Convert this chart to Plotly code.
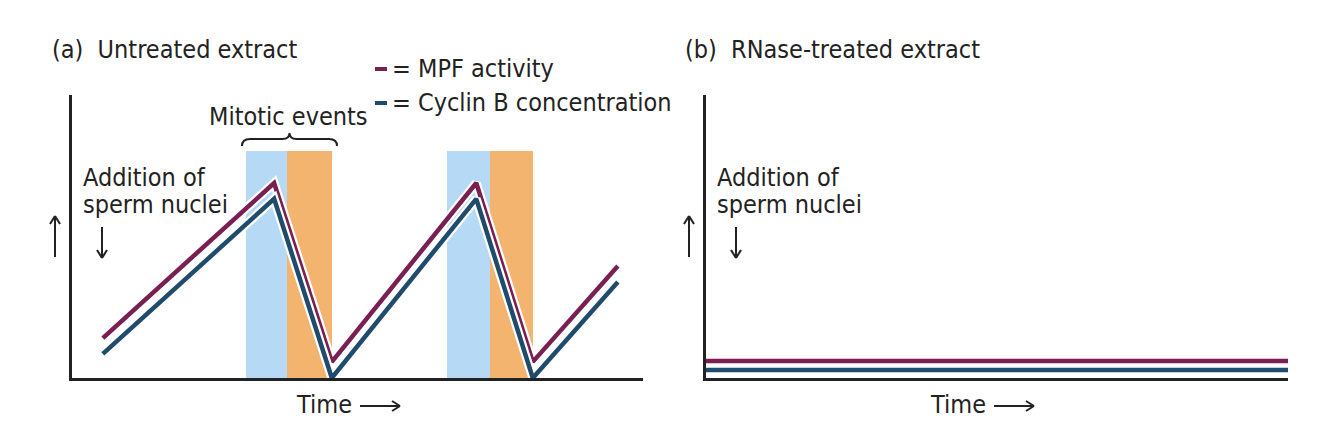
import plotly.graph_objects as go

W, H = 1326, 438

# ---------------- data (time units 0-100, level units 0-100) ----------------
time_a = [5.4, 35.4, 45.5, 70.8, 80.7, 95.6]
mpf_a = [14.1, 68.9, 5.7, 68.9, 5.7, 39.6]
cyclin_a = [8.5, 63.3, 0.0, 63.3, 0.0, 33.9]

early_mitosis_start = [30.4, 65.7]
early_mitosis_end = [37.7, 73.2]
late_mitosis_start = [37.7, 73.2]
late_mitosis_end = [45.5, 80.7]
mitosis_top = 80.2

time_b = [0, 100]
mpf_b = [6.0, 6.0]
cyclin_b = [2.8, 2.8]

PURPLE = "#7a1f52"
BLUE = "#1f4c6c"
LIGHTBLUE = "#b6d9f5"
ORANGE = "#f3b46f"
INK = "#222222"
FONT = "Liberation Sans Narrow, DejaVu Sans Condensed, Arial Narrow, sans-serif"
FS = 25


def px(x):
    return x / W


def py(y):
    return 1 - y / H


fig = go.Figure()

# mitotic event bars
for starts, ends, col in [(early_mitosis_start, early_mitosis_end, LIGHTBLUE),
                          (late_mitosis_start, late_mitosis_end, ORANGE)]:
    fig.add_trace(go.Bar(
        x=[(s + e) / 2 for s, e in zip(starts, ends)],
        width=[e - s for s, e in zip(starts, ends)],
        y=[mitosis_top] * len(starts),
        marker=dict(color=col, line=dict(width=0)),
        xaxis="x", yaxis="y", showlegend=False, hoverinfo="skip"))

# lines with white casing
for xs, ys, col, ax, ay in [(time_a, mpf_a, PURPLE, "x", "y"),
                            (time_a, cyclin_a, BLUE, "x", "y"),
                            (time_b, mpf_b, PURPLE, "x2", "y2"),
                            (time_b, cyclin_b, BLUE, "x2", "y2")]:
    fig.add_trace(go.Scatter(x=xs, y=ys, mode="lines",
                             line=dict(color="white", width=9),
                             xaxis=ax, yaxis=ay, showlegend=False, hoverinfo="skip"))
    fig.add_trace(go.Scatter(x=xs, y=ys, mode="lines",
                             line=dict(color=col, width=4.5),
                             xaxis=ax, yaxis=ay, showlegend=False, hoverinfo="skip"))

ydom = [py(378), py(95)]
axis_common = dict(showgrid=False, zeroline=False, showticklabels=False, ticks="",
                   showline=True, linecolor=INK, linewidth=3, range=[0, 100],
                   layer="above traces", fixedrange=True)
fig.update_layout(
    width=W, height=H, margin=dict(l=0, r=0, t=0, b=0),
    paper_bgcolor="white", plot_bgcolor="white", barmode="overlay", bargap=0,
    xaxis=dict(domain=[px(72), px(643)], anchor="y", **axis_common),
    yaxis=dict(domain=ydom, anchor="x", **axis_common),
    xaxis2=dict(domain=[px(706), px(1288)], anchor="y2", **axis_common),
    yaxis2=dict(domain=ydom, anchor="x2", **axis_common),
)

annotations = []
shapes = []


def text(x, y, s, size=FS, anchor="left"):
    annotations.append(dict(x=px(x), y=py(y), xref="paper", yref="paper", text=s,
                            showarrow=False, xanchor=anchor, yanchor="middle",
                            font=dict(family=FONT, size=size, color=INK)))


def line(x0, y0, x1, y1, color=INK, width=2):
    shapes.append(dict(type="line", xref="paper", yref="paper",
                       x0=px(x0), y0=py(y0), x1=px(x1), y1=py(y1),
                       line=dict(color=color, width=width)))


def arrow(x0, y0, x1, y1, head=8):
    line(x0, y0, x1, y1)
    if x0 == x1:
        d = 1 if y1 > y0 else -1
        line(x1 - 5, y1 - d * head, x1, y1)
        line(x1 + 5, y1 - d * head, x1, y1)
    else:
        d = 1 if x1 > x0 else -1
        line(x1 - d * head, y1 - 5, x1, y1)
        line(x1 - d * head, y1 + 5, x1, y1)


# titles
text(50, 50, "(a)  Untreated extract")
text(683, 50, "(b)  RNase-treated extract")

# legend
line(375, 69, 387, 69, PURPLE, 4)
line(375, 103, 387, 103, BLUE, 4)
text(390, 69, "= MPF activity")
text(390, 102, "= Cyclin B concentration")

# mitotic events + brace
text(207, 116, "Mitotic events")
bx0, bx1, btop, bmid, bbot = 242, 337, 133, 139, 146
bc = (bx0 + bx1) / 2
path = (f"M {px(bx0)},{py(bbot)} Q {px(bx0)},{py(bmid)} {px(bx0 + 8)},{py(bmid)} "
        f"L {px(bc - 7)},{py(bmid)} Q {px(bc)},{py(bmid)} {px(bc)},{py(btop)} "
        f"Q {px(bc)},{py(bmid)} {px(bc + 7)},{py(bmid)} "
        f"L {px(bx1 - 8)},{py(bmid)} Q {px(bx1)},{py(bmid)} {px(bx1)},{py(bbot)}")
shapes.append(dict(type="path", xref="paper", yref="paper", path=path,
                   line=dict(color=INK, width=2)))

for off in (0, 634):
    text(81 + off, 178, "Addition of")
    text(81 + off, 205, "sperm nuclei")
    arrow(55 + off, 257, 55 + off, 216)
    arrow(102 + off, 227, 102 + off, 258)
    text(294 + off, 404, "Time")
    arrow(360 + off, 406, 400 + off, 406)

fig.update_layout(annotations=annotations, shapes=shapes)
fig.write_html("out.html", config={"displayModeBar": False},
               post_script="document.body.style.margin='0';")
